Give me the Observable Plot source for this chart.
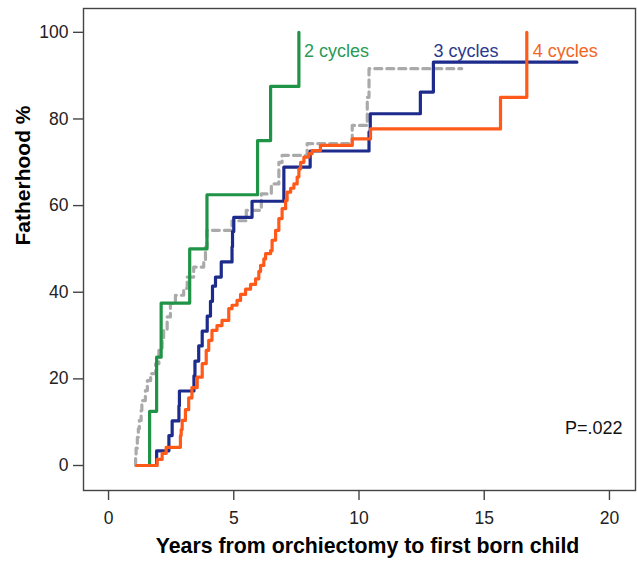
<!DOCTYPE html>
<html>
<head>
<meta charset="utf-8">
<script src="https://cdn.jsdelivr.net/npm/d3@7"></script>
<script src="https://cdn.jsdelivr.net/npm/@observablehq/plot@0.6"></script>
<style>
  html, body { margin: 0; padding: 0; background: #fff; }
  #chart svg { display: block; }
</style>
</head>
<body>
<div id="chart"></div>
<script>
// ---- data (years from orchiectomy, cumulative fatherhood %) ----
const allT = [1.08, 1.08, 1.10, 1.15, 1.19, 1.23, 1.30, 1.33, 1.47, 1.55, 1.68, 1.88, 2.01, 2.14, 2.20, 2.34, 2.47, 2.67, 3.00, 3.14, 3.40, 3.80, 3.87, 3.93, 4.93, 5.50, 6.10, 6.50, 6.80, 6.93, 7.93, 9.73, 10.33, 10.40, 14.10];
const allP = [0, 1.9, 4.0, 6.5, 8.5, 10.4, 12.7, 15.0, 17.3, 19.6, 21.2, 23.5, 26.6, 29.0, 31.2, 34.3, 37.4, 39.3, 40.9, 43.5, 45.8, 47.3, 50.4, 54.3, 56.5, 58.9, 62.7, 65.0, 70.0, 71.6, 74.3, 78.5, 85.0, 91.6, 91.6];

const cyc2T = [1.64, 1.64, 1.92, 2.10, 3.24, 3.93, 5.95, 6.47, 7.60];
const cyc2P = [0, 12.5, 25, 37.5, 50, 62.5, 75, 87.5, 100];

const cyc3T = [1.92, 1.92, 2.41, 2.54, 2.81, 2.83, 3.41, 3.45, 3.60, 3.74, 3.94, 4.07, 4.15, 4.27, 4.50, 4.93, 4.95, 5.00, 5.73, 7.00, 8.05, 10.40, 10.45, 12.45, 12.97, 18.70];
const cyc3P = [0, 3.4, 6.9, 10.3, 13.8, 17.2, 20.7, 24.1, 27.6, 31.0, 34.5, 37.9, 41.4, 43.5, 47.0, 50.5, 54.0, 57.3, 61.0, 68.9, 72.6, 77.0, 81.2, 86.2, 93.1, 93.1];

const cyc4T = [1.12, 1.94, 2.14, 2.30, 2.87, 2.90, 2.94, 3.07, 3.20, 3.33, 3.54, 3.74, 3.90, 4.00, 4.13, 4.33, 4.53, 4.80, 4.93, 5.13, 5.27, 5.47, 5.67, 5.87, 6.00, 6.07, 6.20, 6.27, 6.47, 6.53, 6.67, 6.80, 6.93, 7.07, 7.13, 7.27, 7.40, 7.53, 7.60, 7.67, 7.80, 8.00, 8.13, 8.46, 9.73, 10.46, 15.65, 16.70];
const cyc4P = [0, 1.4, 2.8, 4.2, 6.9, 8.3, 10.4, 12.9, 15.6, 18.0, 20.4, 23.5, 26.6, 28.9, 31.2, 32.3, 33.5, 36.2, 37.0, 38.1, 39.5, 40.7, 41.8, 43.1, 44.8, 46.2, 47.7, 48.9, 49.6, 52.0, 54.3, 57.0, 59.3, 61.2, 63.1, 64.0, 65.0, 66.6, 68.5, 70.0, 71.2, 72.0, 72.7, 73.9, 75.4, 77.7, 85.0, 100];

const seriesNames = ["2 cycles", "3 cycles", "4 cycles"];
const xTicks = [0, 5, 10, 15, 20];
const yTicks = [0, 20, 40, 60, 80, 100];
const pValue = "P=.022";

// ---- build tables ----
const toRows = (T, P) => T.map((t, i) => ({t, p: P[i]}));
const allRows = toRows(allT, allP);
const rows2 = toRows(cyc2T, cyc2P);
const rows3 = toRows(cyc3T, cyc3P);
const rows4 = toRows(cyc4T, cyc4P);

const font = "Liberation Sans, Arial, Helvetica, sans-serif";
const cGreen = "#1f9447", cBlue = "#1d2b8c", cOrange = "#ff5a1a", cGray = "#aaaaaa";

const lastRow = rows => rows[rows.length - 1];

const chart = Plot.plot({
  width: 637,
  height: 562,
  marginLeft: 83,
  marginRight: 2,
  marginTop: 8,
  marginBottom: 72,
  style: {fontFamily: font, background: "#fff"},
  x: {domain: [-1.0, 21.04]},
  y: {domain: [-5.77, 105.5]},
  marks: [
    Plot.frame({stroke: "#444", strokeWidth: 1.4}),
    Plot.axisY(yTicks, {anchor: "left", tickSize: 10, tickPadding: 5, fontSize: 17.5, stroke: "#444", strokeWidth: 1.4, fill: "#222", label: null}),
    Plot.axisX(xTicks, {anchor: "bottom", tickSize: 10, tickPadding: 11, fontSize: 17.5, stroke: "#444", strokeWidth: 1.4, fill: "#222", label: null}),
    Plot.line(allRows, {x: "t", y: "p", curve: "step-after", stroke: cGray, strokeWidth: 3.2, strokeDasharray: "7,5"}),
    Plot.line(rows2, {x: "t", y: "p", curve: "step-after", stroke: cGreen, strokeWidth: 3.2}),
    Plot.line(rows3, {x: "t", y: "p", curve: "step-after", stroke: cBlue, strokeWidth: 3.2}),
    Plot.line(rows4, {x: "t", y: "p", curve: "step-after", stroke: cOrange, strokeWidth: 3.2}),
    Plot.text([lastRow(rows2)], {x: "t", y: 95.6, text: () => seriesNames[0], textAnchor: "start", dx: 5, fill: "#2a9a55", fontSize: 18}),
    Plot.text([lastRow(rows3)], {x: d => cyc3T[cyc3T.length - 2], y: 95.6, text: () => seriesNames[1], textAnchor: "start", dx: 0, fill: "#2b3a8e", fontSize: 18}),
    Plot.text([lastRow(rows4)], {x: "t", y: 95.6, text: () => seriesNames[2], textAnchor: "start", dx: 6, fill: "#f26625", fontSize: 18}),
    Plot.text([pValue], {frameAnchor: "bottom-right", text: d => d, textAnchor: "end", dx: -13, dy: -57, fontSize: 18, fill: "#111"}),
    Plot.text(["Fatherhood %"], {frameAnchor: "left", text: d => d, rotate: -90, dx: -60, dy: -4, fontSize: 21, fontWeight: "bold", fill: "#000"}),
    Plot.text(["Years from orchiectomy to first born child"], {frameAnchor: "bottom", text: d => d, dx: 8, dy: 62, fontSize: 21.3, fontWeight: "bold", fill: "#000"})
  ]
});
document.getElementById("chart").appendChild(chart);
</script>
</body>
</html>
